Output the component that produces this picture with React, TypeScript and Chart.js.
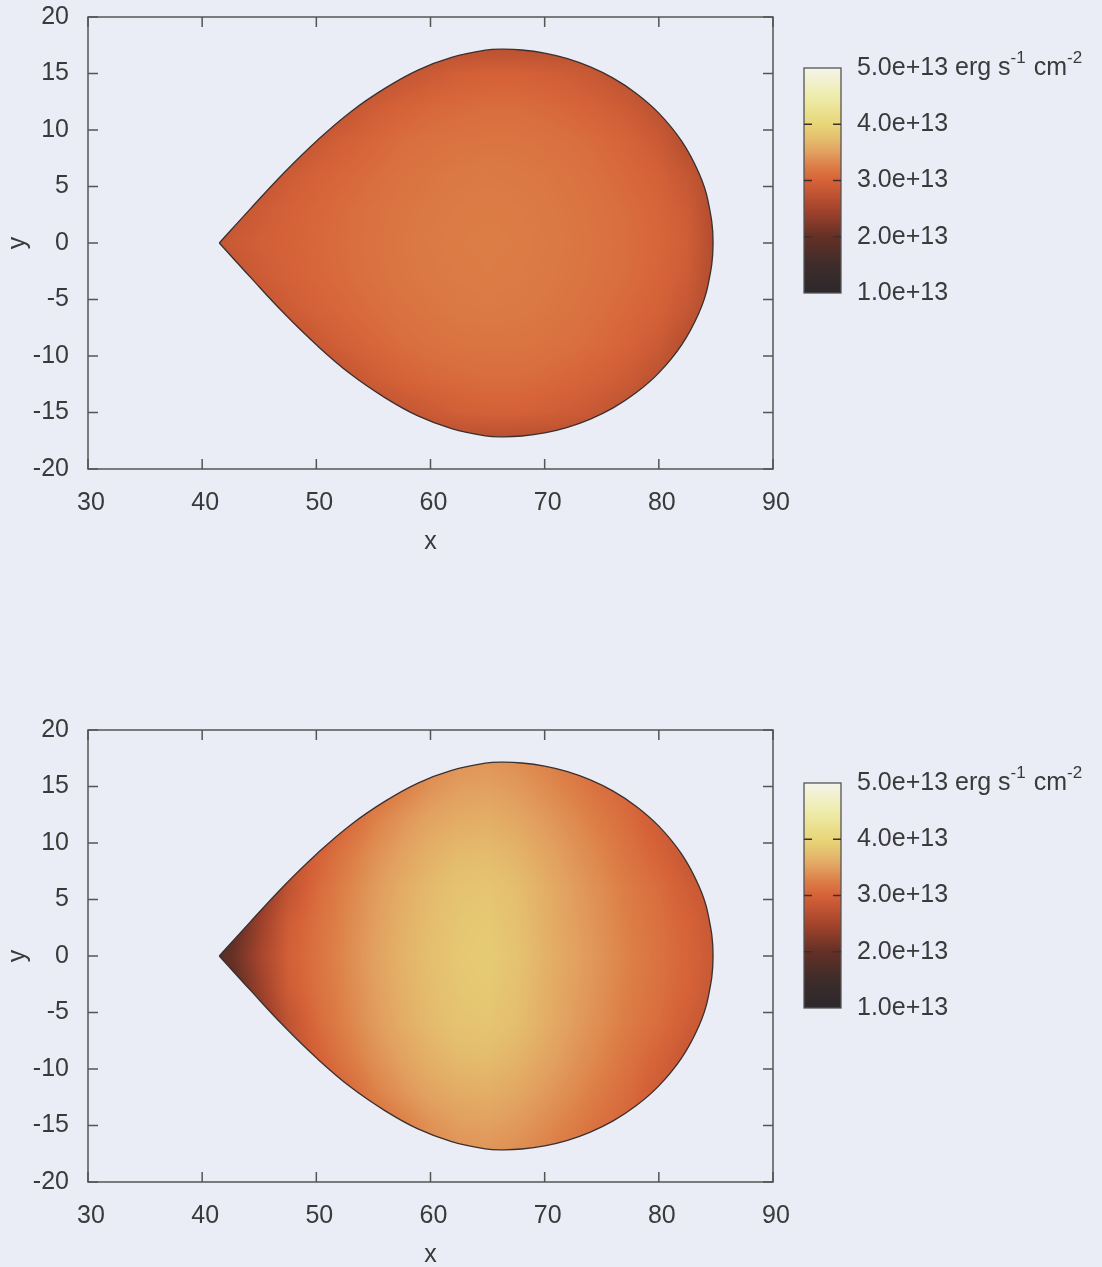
import React, { useEffect, useRef } from 'react';
import { Chart, registerables } from 'chart.js';

Chart.register(...registerables);

// ---- axes -------------------------------------------------------------
const X_MIN = 30;
const X_MAX = 90;
const X_STEP = 10;
const Y_MIN = -20;
const Y_MAX = 20;
const Y_STEP = 5;

// colour scale (erg s^-1 cm^-2)
const CB_MIN = 1.0e13;
const CB_MAX = 5.0e13;
const CB_STEP = 1.0e13;

// ---- lobe outline (upper half, mirrored about y = 0) ------------------
const lobeX = [41.5, 44.2, 47.15, 50.1, 53.0, 56.0, 58.9, 61.85, 64.8, 66.3, 68.0, 70.0, 72.0, 74.0, 76.0, 78.0, 80.0, 82.0, 83.5, 84.3, 84.75];
const lobeHalfY = [0.0, 3.0, 6.2, 9.1, 11.6, 13.68, 15.3, 16.42, 17.06, 17.15, 17.08, 16.8, 16.31, 15.58, 14.59, 13.26, 11.49, 9.01, 6.21, 3.77, 0.0];

// ---- surface flux on a grid (units of 1e13), rows are |y| -------------
const gridX = [40, 42.5, 45, 47.5, 50, 52.5, 55, 57.5, 60, 62.5, 65, 67.5, 70, 72.5, 75, 77.5, 80, 82.5, 85];
const gridY = [0, 3, 6, 9, 12, 15, 18];

const fluxUpper = [
  [2.65, 2.88, 2.95, 3.00, 3.05, 3.10, 3.15, 3.19, 3.22, 3.24, 3.25, 3.24, 3.22, 3.19, 3.15, 3.10, 3.04, 2.93, 2.62],
  [2.62, 2.75, 2.90, 2.98, 3.04, 3.09, 3.14, 3.18, 3.21, 3.23, 3.24, 3.23, 3.21, 3.18, 3.14, 3.09, 3.02, 2.90, 2.60],
  [2.60, 2.60, 2.75, 2.90, 2.99, 3.05, 3.10, 3.15, 3.18, 3.21, 3.22, 3.21, 3.19, 3.16, 3.11, 3.05, 2.98, 2.82, 2.60],
  [2.60, 2.60, 2.60, 2.70, 2.86, 2.97, 3.04, 3.10, 3.14, 3.16, 3.17, 3.17, 3.15, 3.12, 3.07, 3.00, 2.88, 2.65, 2.60],
  [2.60, 2.60, 2.60, 2.60, 2.65, 2.78, 2.92, 3.00, 3.05, 3.08, 3.10, 3.10, 3.07, 3.03, 2.97, 2.88, 2.72, 2.60, 2.60],
  [2.60, 2.60, 2.60, 2.60, 2.60, 2.60, 2.68, 2.80, 2.88, 2.95, 2.98, 2.98, 2.95, 2.90, 2.82, 2.70, 2.60, 2.60, 2.60],
  [2.60, 2.60, 2.60, 2.60, 2.60, 2.60, 2.60, 2.60, 2.60, 2.62, 2.62, 2.62, 2.60, 2.60, 2.60, 2.60, 2.60, 2.60, 2.60],
];

const fluxLower = [
  [1.60, 2.00, 2.50, 2.95, 3.15, 3.33, 3.50, 3.65, 3.76, 3.85, 3.88, 3.80, 3.65, 3.52, 3.40, 3.27, 3.15, 3.02, 2.85],
  [1.60, 1.85, 2.40, 2.90, 3.13, 3.31, 3.48, 3.63, 3.74, 3.83, 3.86, 3.78, 3.63, 3.50, 3.38, 3.25, 3.13, 3.00, 2.82],
  [1.60, 1.75, 2.20, 2.75, 3.07, 3.28, 3.45, 3.60, 3.72, 3.80, 3.82, 3.75, 3.62, 3.48, 3.36, 3.22, 3.10, 2.93, 2.78],
  [2.10, 2.20, 2.40, 2.70, 2.97, 3.20, 3.38, 3.52, 3.64, 3.72, 3.73, 3.67, 3.55, 3.42, 3.30, 3.15, 3.00, 2.83, 2.75],
  [2.75, 2.75, 2.75, 2.75, 2.82, 3.03, 3.27, 3.42, 3.54, 3.60, 3.62, 3.56, 3.46, 3.35, 3.22, 3.08, 2.90, 2.80, 2.80],
  [3.00, 3.00, 3.00, 3.00, 3.00, 3.00, 3.10, 3.25, 3.40, 3.48, 3.50, 3.45, 3.36, 3.25, 3.12, 3.00, 2.90, 2.90, 2.90],
  [3.10, 3.10, 3.10, 3.10, 3.10, 3.10, 3.10, 3.20, 3.30, 3.38, 3.40, 3.35, 3.26, 3.15, 3.05, 2.95, 2.95, 2.95, 2.95],
];

// ---- palette ----------------------------------------------------------
const paletteStops = [1.0, 1.5, 2.0, 2.5, 3.0, 3.25, 3.5, 3.75, 4.0, 4.5, 5.0];
const paletteRGB: number[][] = [
  [44, 40, 44], [62, 44, 42], [100, 48, 38], [165, 68, 44], [214, 98, 56],
  [220, 125, 70], [226, 160, 96], [228, 190, 110], [232, 214, 120], [238, 236, 172], [244, 244, 236],
];

const BG = '#eaecf6';
const INK = '#3a3a3a';
const FRAME = '#555555';
const FONT = { family: "'Liberation Sans', Arial, sans-serif", size: 25 };

function paletteColour(v: number): number[] {
  if (v <= paletteStops[0]) return paletteRGB[0];
  for (let k = 1; k < paletteStops.length; k++) {
    if (v <= paletteStops[k]) {
      const t = (v - paletteStops[k - 1]) / (paletteStops[k] - paletteStops[k - 1]);
      const a = paletteRGB[k - 1];
      const b = paletteRGB[k];
      return [a[0] + (b[0] - a[0]) * t, a[1] + (b[1] - a[1]) * t, a[2] + (b[2] - a[2]) * t];
    }
  }
  return paletteRGB[paletteRGB.length - 1];
}

function bracket(arr: number[], v: number): [number, number] {
  if (v <= arr[0]) return [0, 0];
  const n = arr.length;
  if (v >= arr[n - 1]) return [n - 2, 1];
  for (let i = 0; i < n - 1; i++) {
    if (v < arr[i + 1]) return [i, (v - arr[i]) / (arr[i + 1] - arr[i])];
  }
  return [n - 2, 1];
}

function sampleFlux(rows: number[][], bx: [number, number], by: [number, number]): number {
  const [i, tx] = bx;
  const [j, ty] = by;
  const a = rows[j][i], b = rows[j][i + 1];
  const c = rows[j + 1][i], d = rows[j + 1][i + 1];
  const top = a + (b - a) * tx;
  const bot = c + (d - c) * tx;
  return top + (bot - top) * ty;
}

function lobePoints() {
  const pts: { x: number; y: number }[] = [];
  for (let i = 0; i < lobeX.length; i++) pts.push({ x: lobeX[i], y: lobeHalfY[i] });
  for (let i = lobeX.length - 2; i >= 0; i--) pts.push({ x: lobeX[i], y: -lobeHalfY[i] });
  return pts;
}

function traceLobe(chart: any, ctx: CanvasRenderingContext2D) {
  const meta = chart.getDatasetMeta(0);
  const line: any = meta.dataset;
  try {
    line.updateControlPoints(chart.chartArea, 'x');
    ctx.beginPath();
    line.path(ctx);
    ctx.closePath();
    return;
  } catch (e) {
    ctx.beginPath();
    meta.data.forEach((p: any, i: number) => (i ? ctx.lineTo(p.x, p.y) : ctx.moveTo(p.x, p.y)));
    ctx.closePath();
  }
}

function fluxMapPlugin(rows: number[][]) {
  return {
    id: 'fluxMap',
    beforeDatasetsDraw(chart: any) {
      const { ctx, chartArea: a, scales } = chart;
      const xs = scales.x;
      const ys = scales.y;
      const w = Math.round(a.right - a.left);
      const h = Math.round(a.bottom - a.top);
      const off = document.createElement('canvas');
      off.width = w;
      off.height = h;
      const octx = off.getContext('2d')!;
      const img = octx.createImageData(w, h);
      const colB: [number, number][] = [];
      for (let i = 0; i < w; i++) colB.push(bracket(gridX, xs.getValueForPixel(a.left + i + 0.5)));
      for (let j = 0; j < h; j++) {
        const yb = bracket(gridY, Math.abs(ys.getValueForPixel(a.top + j + 0.5)));
        for (let i = 0; i < w; i++) {
          const c = paletteColour(sampleFlux(rows, colB[i], yb));
          const k = (j * w + i) * 4;
          img.data[k] = c[0];
          img.data[k + 1] = c[1];
          img.data[k + 2] = c[2];
          img.data[k + 3] = 255;
        }
      }
      octx.putImageData(img, 0, 0);
      ctx.save();
      traceLobe(chart, ctx);
      ctx.clip();
      ctx.drawImage(off, a.left, a.top);
      ctx.restore();
    },
  };
}

const framePlugin = {
  id: 'frame',
  afterDatasetsDraw(chart: any) {
    const { ctx, chartArea: a, scales } = chart;
    const len = 10;
    ctx.save();
    ctx.strokeStyle = FRAME;
    ctx.lineWidth = 1.5;
    ctx.beginPath();
    for (const t of scales.x.ticks) {
      const px = scales.x.getPixelForValue(t.value);
      ctx.moveTo(px, a.bottom);
      ctx.lineTo(px, a.bottom - len);
      ctx.moveTo(px, a.top);
      ctx.lineTo(px, a.top + len);
    }
    for (const t of scales.y.ticks) {
      const py = scales.y.getPixelForValue(t.value);
      ctx.moveTo(a.left, py);
      ctx.lineTo(a.left + len, py);
      ctx.moveTo(a.right, py);
      ctx.lineTo(a.right - len, py);
    }
    ctx.stroke();
    ctx.strokeRect(a.left, a.top, a.right - a.left, a.bottom - a.top);
    ctx.restore();
  },
};

// keep the plot area exactly where the layout padding puts it
function fixBox(size: 'width' | 'height', value: number) {
  return (s: any) => {
    s[size] = value;
    s.paddingTop = 0;
    s.paddingBottom = 0;
    s.paddingLeft = 0;
    s.paddingRight = 0;
  };
}

function LobePanel({ top, flux }: { top: number; flux: number[][] }) {
  const ref = useRef<HTMLCanvasElement>(null);
  useEffect(() => {
    const chart = new Chart(ref.current!, {
      type: 'scatter',
      data: {
        datasets: [
          {
            data: lobePoints(),
            showLine: true,
            tension: 0.4,
            pointRadius: 0,
            borderColor: '#3a3030',
            borderWidth: 1.3,
            fill: false,
          } as any,
        ],
      },
      options: {
        animation: false,
        responsive: false,
        events: [],
        layout: { padding: { left: 0, top: 17, right: 27, bottom: 0 } },
        plugins: { legend: { display: false }, tooltip: { enabled: false } },
        scales: {
          x: {
            type: 'linear',
            min: X_MIN,
            max: X_MAX,
            grid: { display: false, drawTicks: false },
            border: { display: false },
            ticks: { stepSize: X_STEP, padding: 19, labelOffset: 3, color: INK, font: FONT },
            title: { display: true, text: 'x', color: INK, font: FONT, padding: { top: 0, bottom: 3 } },
            afterFit: fixBox('height', 91),
          },
          y: {
            type: 'linear',
            min: Y_MIN,
            max: Y_MAX,
            grid: { display: false, drawTicks: false },
            border: { display: false },
            ticks: { stepSize: Y_STEP, padding: 19, color: INK, font: FONT },
            title: { display: true, text: 'y', color: INK, font: FONT, padding: { top: 3, bottom: 0 } },
            afterFit: fixBox('width', 88),
          },
        },
      } as any,
      plugins: [fluxMapPlugin(flux), framePlugin],
    });
    return () => chart.destroy();
  }, [flux]);
  return (
    <canvas
      ref={ref}
      width={800}
      height={560}
      style={{ position: 'absolute', left: 0, top, width: 800, height: 560 }}
    />
  );
}

function formatFlux(v: number) {
  return (v / 1e13).toFixed(1) + 'e+13';
}

const colourBarPlugin = {
  id: 'colourBar',
  beforeDatasetsDraw(chart: any) {
    const { ctx, chartArea: a, scales } = chart;
    const ys = scales.y;
    const grad = ctx.createLinearGradient(0, ys.getPixelForValue(CB_MIN), 0, ys.getPixelForValue(CB_MAX));
    paletteStops.forEach((v, k) => {
      const c = paletteRGB[k];
      grad.addColorStop((v * 1e13 - CB_MIN) / (CB_MAX - CB_MIN), `rgb(${c[0]},${c[1]},${c[2]})`);
    });
    ctx.save();
    ctx.fillStyle = grad;
    ctx.fillRect(a.left, a.top, a.right - a.left, a.bottom - a.top);
    ctx.strokeStyle = FRAME;
    ctx.lineWidth = 1.3;
    ctx.strokeRect(a.left, a.top, a.right - a.left, a.bottom - a.top);
    ctx.strokeStyle = '#3a3030';
    ctx.lineWidth = 1.5;
    ctx.beginPath();
    for (const t of ys.ticks) {
      if (t.value <= CB_MIN || t.value >= CB_MAX) continue;
      const py = ys.getPixelForValue(t.value);
      ctx.moveTo(a.left, py);
      ctx.lineTo(a.left + 8, py);
      ctx.moveTo(a.right, py);
      ctx.lineTo(a.right - 8, py);
    }
    ctx.stroke();
    ctx.restore();
  },
  afterDraw(chart: any) {
    const { ctx, chartArea: a, scales } = chart;
    const ys = scales.y;
    const py = ys.getPixelForValue(CB_MAX);
    const font = `${FONT.size}px ${FONT.family}`;
    const small = `17px ${FONT.family}`;
    ctx.save();
    ctx.fillStyle = INK;
    ctx.textBaseline = 'middle';
    ctx.textAlign = 'left';
    ctx.font = font;
    let x = a.right + 16 + ctx.measureText(formatFlux(CB_MAX)).width + ctx.measureText(' ').width;
    const parts: [string, boolean][] = [['erg s', false], ['-1', true], [' cm', false], ['-2', true]];
    for (const [txt, sup] of parts) {
      ctx.font = sup ? small : font;
      ctx.fillText(txt, x, sup ? py - 10 : py);
      x += ctx.measureText(txt).width + (sup ? 1 : 0);
    }
    ctx.restore();
  },
};

function ColourBar({ top }: { top: number }) {
  const ref = useRef<HTMLCanvasElement>(null);
  useEffect(() => {
    const chart = new Chart(ref.current!, {
      type: 'scatter',
      data: { datasets: [] },
      options: {
        animation: false,
        responsive: false,
        events: [],
        layout: { padding: { left: 24, top: 28, right: 0, bottom: 37 } },
        plugins: { legend: { display: false }, tooltip: { enabled: false } },
        scales: {
          x: { display: false, min: 0, max: 1 },
          y: {
            type: 'linear',
            position: 'right',
            min: CB_MIN,
            max: CB_MAX,
            grid: { display: false, drawTicks: false },
            border: { display: false },
            ticks: {
              stepSize: CB_STEP,
              padding: 16,
              color: INK,
              font: FONT,
              callback: (v: any) => formatFlux(Number(v)),
            },
            afterFit: fixBox('width', 261),
          },
        },
      } as any,
      plugins: [colourBarPlugin],
    });
    return () => chart.destroy();
  }, []);
  return (
    <canvas
      ref={ref}
      width={322}
      height={290}
      style={{ position: 'absolute', left: 780, top, width: 322, height: 290 }}
    />
  );
}

export default function App() {
  return (
    <div
      style={{
        position: 'absolute',
        left: 0,
        top: 0,
        width: 1102,
        height: 1267,
        background: BG,
        overflow: 'hidden',
      }}
    >
      <LobePanel top={0} flux={fluxUpper} />
      <LobePanel top={713} flux={fluxLower} />
      <ColourBar top={40} />
      <ColourBar top={755} />
    </div>
  );
}
